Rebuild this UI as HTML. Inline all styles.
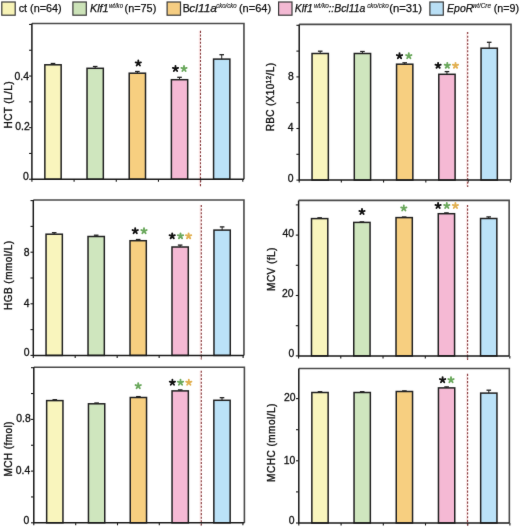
<!DOCTYPE html>
<html><head><meta charset="utf-8"><style>
html,body{margin:0;padding:0;background:#fff;width:520px;height:529px;overflow:hidden}
svg{display:block}
text{stroke:#111;stroke-width:0.35px}
.lb{stroke-width:0.3px}
.lg{stroke-width:0.25px}
.sp{stroke-width:0.12px}
</style></head><body>
<svg width="520" height="529" viewBox="0 0 520 529" font-family='"Liberation Sans", sans-serif' fill="#111" stroke="none"><defs><filter id="bl" filterUnits="userSpaceOnUse" x="0" y="0" width="520" height="529" color-interpolation-filters="sRGB"><feConvolveMatrix order="3" kernelMatrix="0.01 0.05 0.01 0.05 0.76 0.05 0.01 0.05 0.01" divisor="1" edgeMode="duplicate"/></filter></defs>
<rect width="520" height="529" fill="#fff"/>
<g filter="url(#bl)">
<rect width="520" height="529" fill="#fff"/>
<line x1="29.10" y1="179.25" x2="31.90" y2="179.25" stroke="#1a1a1a" stroke-width="1.1"/>
<line x1="29.10" y1="153.45" x2="31.90" y2="153.45" stroke="#1a1a1a" stroke-width="1.1"/>
<line x1="29.10" y1="127.65" x2="31.90" y2="127.65" stroke="#1a1a1a" stroke-width="1.1"/>
<line x1="29.10" y1="101.85" x2="31.90" y2="101.85" stroke="#1a1a1a" stroke-width="1.1"/>
<line x1="29.10" y1="76.05" x2="31.90" y2="76.05" stroke="#1a1a1a" stroke-width="1.1"/>
<line x1="29.10" y1="50.25" x2="31.90" y2="50.25" stroke="#1a1a1a" stroke-width="1.1"/>
<line x1="29.10" y1="24.45" x2="31.90" y2="24.45" stroke="#1a1a1a" stroke-width="1.1"/>
<line x1="31.90" y1="179.25" x2="31.90" y2="181.75" stroke="#1a1a1a" stroke-width="1.1"/>
<line x1="74.09" y1="179.25" x2="74.09" y2="181.75" stroke="#1a1a1a" stroke-width="1.1"/>
<line x1="116.27" y1="179.25" x2="116.27" y2="181.75" stroke="#1a1a1a" stroke-width="1.1"/>
<line x1="158.45" y1="179.25" x2="158.45" y2="181.75" stroke="#1a1a1a" stroke-width="1.1"/>
<line x1="200.63" y1="179.25" x2="200.63" y2="181.75" stroke="#1a1a1a" stroke-width="1.1"/>
<line x1="242.81" y1="179.25" x2="242.81" y2="181.75" stroke="#1a1a1a" stroke-width="1.1"/>
<line x1="199.60" y1="30.80" x2="199.60" y2="185.75" stroke="#fbe6e6" stroke-width="1.6"/>
<line x1="200.50" y1="30.80" x2="200.50" y2="186.25" stroke="#86393b" stroke-width="1.1" stroke-dasharray="2.1 1.55"/>
<rect x="44.85" y="64.80" width="16.30" height="114.45" fill="#f9f5bd" stroke="#222" stroke-width="1.5"/>
<line x1="53.00" y1="63.50" x2="53.00" y2="64.80" stroke="#222" stroke-width="1"/>
<line x1="50.70" y1="63.50" x2="55.30" y2="63.50" stroke="#222" stroke-width="1.3"/>
<rect x="87.03" y="68.30" width="16.30" height="110.95" fill="#cfe6be" stroke="#222" stroke-width="1.5"/>
<line x1="95.18" y1="66.50" x2="95.18" y2="68.30" stroke="#222" stroke-width="1"/>
<line x1="92.88" y1="66.50" x2="97.48" y2="66.50" stroke="#222" stroke-width="1.3"/>
<rect x="129.21" y="73.20" width="16.30" height="106.05" fill="#f7cf80" stroke="#222" stroke-width="1.5"/>
<line x1="137.36" y1="71.50" x2="137.36" y2="73.20" stroke="#222" stroke-width="1"/>
<line x1="135.06" y1="71.50" x2="139.66" y2="71.50" stroke="#222" stroke-width="1.3"/>
<rect x="171.39" y="79.70" width="16.30" height="99.55" fill="#f5b9d4" stroke="#222" stroke-width="1.5"/>
<line x1="179.54" y1="77.30" x2="179.54" y2="79.70" stroke="#222" stroke-width="1"/>
<line x1="177.24" y1="77.30" x2="181.84" y2="77.30" stroke="#222" stroke-width="1.3"/>
<rect x="213.57" y="59.10" width="16.30" height="120.15" fill="#bbe2f8" stroke="#222" stroke-width="1.5"/>
<line x1="221.72" y1="54.70" x2="221.72" y2="59.10" stroke="#222" stroke-width="1"/>
<line x1="219.42" y1="54.70" x2="224.02" y2="54.70" stroke="#222" stroke-width="1.3"/>
<path d="M31.90 23.50H243.95V179.25" fill="none" stroke="#4a4a4a" stroke-width="1.6"/>
<path d="M31.90 23.50V179.25H243.95" fill="none" stroke="#1a1a1a" stroke-width="1.5"/>
<text x="28.85" y="179.50" text-anchor="end" font-size="10.4" class="lb">0</text>
<text x="29.75" y="129.80" text-anchor="end" font-size="10.4" class="lb">0.2</text>
<text x="29.05" y="79.80" text-anchor="end" font-size="10.4" class="lb">0.4</text>
<text transform="translate(11.60 105.00) rotate(-90)" text-anchor="middle" font-size="10" textLength="47.0" lengthAdjust="spacing">HCT (L/L)</text>
<path d="M138.30 63.20L138.30 60.40M138.30 63.20L140.96 62.33M138.30 63.20L139.95 65.47M138.30 63.20L136.65 65.47M138.30 63.20L135.64 62.33" stroke="#111111" stroke-width="1.85" stroke-linecap="round" fill="none"/>
<path d="M175.50 68.70L175.50 65.90M175.50 68.70L178.16 67.83M175.50 68.70L177.15 70.97M175.50 68.70L173.85 70.97M175.50 68.70L172.84 67.83" stroke="#111111" stroke-width="1.85" stroke-linecap="round" fill="none"/>
<path d="M184.00 68.70L184.00 65.90M184.00 68.70L186.66 67.83M184.00 68.70L185.65 70.97M184.00 68.70L182.35 70.97M184.00 68.70L181.34 67.83" stroke="#6aa85c" stroke-width="1.85" stroke-linecap="round" fill="none"/><line x1="296.40" y1="180.10" x2="299.20" y2="180.10" stroke="#1a1a1a" stroke-width="1.1"/>
<line x1="296.40" y1="154.30" x2="299.20" y2="154.30" stroke="#1a1a1a" stroke-width="1.1"/>
<line x1="296.40" y1="128.50" x2="299.20" y2="128.50" stroke="#1a1a1a" stroke-width="1.1"/>
<line x1="296.40" y1="102.70" x2="299.20" y2="102.70" stroke="#1a1a1a" stroke-width="1.1"/>
<line x1="296.40" y1="76.90" x2="299.20" y2="76.90" stroke="#1a1a1a" stroke-width="1.1"/>
<line x1="296.40" y1="51.10" x2="299.20" y2="51.10" stroke="#1a1a1a" stroke-width="1.1"/>
<line x1="296.40" y1="25.30" x2="299.20" y2="25.30" stroke="#1a1a1a" stroke-width="1.1"/>
<line x1="299.20" y1="180.10" x2="299.20" y2="182.60" stroke="#1a1a1a" stroke-width="1.1"/>
<line x1="341.32" y1="180.10" x2="341.32" y2="182.60" stroke="#1a1a1a" stroke-width="1.1"/>
<line x1="383.57" y1="180.10" x2="383.57" y2="182.60" stroke="#1a1a1a" stroke-width="1.1"/>
<line x1="425.82" y1="180.10" x2="425.82" y2="182.60" stroke="#1a1a1a" stroke-width="1.1"/>
<line x1="468.07" y1="180.10" x2="468.07" y2="182.60" stroke="#1a1a1a" stroke-width="1.1"/>
<line x1="510.32" y1="180.10" x2="510.32" y2="182.60" stroke="#1a1a1a" stroke-width="1.1"/>
<line x1="466.80" y1="32.00" x2="466.80" y2="186.40" stroke="#fbe6e6" stroke-width="1.6"/>
<line x1="467.70" y1="32.00" x2="467.70" y2="186.90" stroke="#86393b" stroke-width="1.1" stroke-dasharray="2.1 1.55"/>
<rect x="312.05" y="53.50" width="16.30" height="126.60" fill="#f9f5bd" stroke="#222" stroke-width="1.5"/>
<line x1="320.20" y1="51.20" x2="320.20" y2="53.50" stroke="#222" stroke-width="1"/>
<line x1="317.90" y1="51.20" x2="322.50" y2="51.20" stroke="#222" stroke-width="1.3"/>
<rect x="354.30" y="53.50" width="16.30" height="126.60" fill="#cfe6be" stroke="#222" stroke-width="1.5"/>
<line x1="362.45" y1="51.50" x2="362.45" y2="53.50" stroke="#222" stroke-width="1"/>
<line x1="360.15" y1="51.50" x2="364.75" y2="51.50" stroke="#222" stroke-width="1.3"/>
<rect x="396.55" y="64.20" width="16.30" height="115.90" fill="#f7cf80" stroke="#222" stroke-width="1.5"/>
<line x1="404.70" y1="62.80" x2="404.70" y2="64.20" stroke="#222" stroke-width="1"/>
<line x1="402.40" y1="62.80" x2="407.00" y2="62.80" stroke="#222" stroke-width="1.3"/>
<rect x="438.80" y="74.30" width="16.30" height="105.80" fill="#f5b9d4" stroke="#222" stroke-width="1.5"/>
<line x1="446.95" y1="71.60" x2="446.95" y2="74.30" stroke="#222" stroke-width="1"/>
<line x1="444.65" y1="71.60" x2="449.25" y2="71.60" stroke="#222" stroke-width="1.3"/>
<rect x="481.05" y="48.20" width="16.30" height="131.90" fill="#bbe2f8" stroke="#222" stroke-width="1.5"/>
<line x1="489.20" y1="42.30" x2="489.20" y2="48.20" stroke="#222" stroke-width="1"/>
<line x1="486.90" y1="42.30" x2="491.50" y2="42.30" stroke="#222" stroke-width="1.3"/>
<path d="M299.20 24.40H511.00V180.10" fill="none" stroke="#4a4a4a" stroke-width="1.6"/>
<path d="M299.20 24.40V180.10H511.00" fill="none" stroke="#1a1a1a" stroke-width="1.5"/>
<text x="293.65" y="181.50" text-anchor="end" font-size="10.4" class="lb">0</text>
<text x="293.65" y="130.80" text-anchor="end" font-size="10.4" class="lb">4</text>
<text x="293.85" y="80.10" text-anchor="end" font-size="10.4" class="lb">8</text>
<text transform="translate(274.30 97.15) rotate(-90)" text-anchor="middle" font-size="10" textLength="68.3" lengthAdjust="spacing">RBC (X10<tspan dy="-3.5" font-size="6.5">12</tspan><tspan dy="3.5">/L)</tspan></text>
<path d="M399.50 55.90L399.50 53.10M399.50 55.90L402.16 55.03M399.50 55.90L401.15 58.17M399.50 55.90L397.85 58.17M399.50 55.90L396.84 55.03" stroke="#111111" stroke-width="1.85" stroke-linecap="round" fill="none"/>
<path d="M408.80 55.90L408.80 53.10M408.80 55.90L411.46 55.03M408.80 55.90L410.45 58.17M408.80 55.90L407.15 58.17M408.80 55.90L406.14 55.03" stroke="#6aa85c" stroke-width="1.85" stroke-linecap="round" fill="none"/>
<path d="M438.10 65.60L438.10 62.80M438.10 65.60L440.76 64.73M438.10 65.60L439.75 67.87M438.10 65.60L436.45 67.87M438.10 65.60L435.44 64.73" stroke="#111111" stroke-width="1.85" stroke-linecap="round" fill="none"/>
<path d="M447.30 65.60L447.30 62.80M447.30 65.60L449.96 64.73M447.30 65.60L448.95 67.87M447.30 65.60L445.65 67.87M447.30 65.60L444.64 64.73" stroke="#6aa85c" stroke-width="1.85" stroke-linecap="round" fill="none"/>
<path d="M455.50 65.60L455.50 62.80M455.50 65.60L458.16 64.73M455.50 65.60L457.15 67.87M455.50 65.60L453.85 67.87M455.50 65.60L452.84 64.73" stroke="#e2b050" stroke-width="1.85" stroke-linecap="round" fill="none"/><line x1="30.50" y1="355.40" x2="33.30" y2="355.40" stroke="#1a1a1a" stroke-width="1.1"/>
<line x1="30.50" y1="329.60" x2="33.30" y2="329.60" stroke="#1a1a1a" stroke-width="1.1"/>
<line x1="30.50" y1="303.80" x2="33.30" y2="303.80" stroke="#1a1a1a" stroke-width="1.1"/>
<line x1="30.50" y1="278.00" x2="33.30" y2="278.00" stroke="#1a1a1a" stroke-width="1.1"/>
<line x1="30.50" y1="252.20" x2="33.30" y2="252.20" stroke="#1a1a1a" stroke-width="1.1"/>
<line x1="30.50" y1="226.40" x2="33.30" y2="226.40" stroke="#1a1a1a" stroke-width="1.1"/>
<line x1="30.50" y1="200.60" x2="33.30" y2="200.60" stroke="#1a1a1a" stroke-width="1.1"/>
<line x1="33.30" y1="355.40" x2="33.30" y2="357.90" stroke="#1a1a1a" stroke-width="1.1"/>
<line x1="75.19" y1="355.40" x2="75.19" y2="357.90" stroke="#1a1a1a" stroke-width="1.1"/>
<line x1="117.17" y1="355.40" x2="117.17" y2="357.90" stroke="#1a1a1a" stroke-width="1.1"/>
<line x1="159.15" y1="355.40" x2="159.15" y2="357.90" stroke="#1a1a1a" stroke-width="1.1"/>
<line x1="201.13" y1="355.40" x2="201.13" y2="357.90" stroke="#1a1a1a" stroke-width="1.1"/>
<line x1="243.11" y1="355.40" x2="243.11" y2="357.90" stroke="#1a1a1a" stroke-width="1.1"/>
<line x1="200.40" y1="204.90" x2="200.40" y2="358.90" stroke="#fbe6e6" stroke-width="1.6"/>
<line x1="201.30" y1="204.90" x2="201.30" y2="359.40" stroke="#86393b" stroke-width="1.1" stroke-dasharray="2.1 1.55"/>
<rect x="46.05" y="234.20" width="16.30" height="121.20" fill="#f9f5bd" stroke="#222" stroke-width="1.5"/>
<line x1="54.20" y1="232.70" x2="54.20" y2="234.20" stroke="#222" stroke-width="1"/>
<line x1="51.90" y1="232.70" x2="56.50" y2="232.70" stroke="#222" stroke-width="1.3"/>
<rect x="88.03" y="236.50" width="16.30" height="118.90" fill="#cfe6be" stroke="#222" stroke-width="1.5"/>
<line x1="96.18" y1="235.20" x2="96.18" y2="236.50" stroke="#222" stroke-width="1"/>
<line x1="93.88" y1="235.20" x2="98.48" y2="235.20" stroke="#222" stroke-width="1.3"/>
<rect x="130.01" y="240.70" width="16.30" height="114.70" fill="#f7cf80" stroke="#222" stroke-width="1.5"/>
<line x1="138.16" y1="239.50" x2="138.16" y2="240.70" stroke="#222" stroke-width="1"/>
<line x1="135.86" y1="239.50" x2="140.46" y2="239.50" stroke="#222" stroke-width="1.3"/>
<rect x="171.99" y="247.00" width="16.30" height="108.40" fill="#f5b9d4" stroke="#222" stroke-width="1.5"/>
<line x1="180.14" y1="245.10" x2="180.14" y2="247.00" stroke="#222" stroke-width="1"/>
<line x1="177.84" y1="245.10" x2="182.44" y2="245.10" stroke="#222" stroke-width="1.3"/>
<rect x="213.97" y="230.10" width="16.30" height="125.30" fill="#bbe2f8" stroke="#222" stroke-width="1.5"/>
<line x1="222.12" y1="226.90" x2="222.12" y2="230.10" stroke="#222" stroke-width="1"/>
<line x1="219.82" y1="226.90" x2="224.42" y2="226.90" stroke="#222" stroke-width="1.3"/>
<path d="M33.30 200.00H243.95V355.40" fill="none" stroke="#4a4a4a" stroke-width="1.6"/>
<path d="M33.30 200.00V355.40H243.95" fill="none" stroke="#1a1a1a" stroke-width="1.5"/>
<text x="29.45" y="356.40" text-anchor="end" font-size="10.4" class="lb">0</text>
<text x="29.45" y="307.40" text-anchor="end" font-size="10.4" class="lb">4</text>
<text x="29.65" y="255.70" text-anchor="end" font-size="10.4" class="lb">8</text>
<text transform="translate(11.70 275.45) rotate(-90)" text-anchor="middle" font-size="10" textLength="68.9" lengthAdjust="spacing">HGB (mmol/L)</text>
<path d="M135.20 230.90L135.20 228.10M135.20 230.90L137.86 230.03M135.20 230.90L136.85 233.17M135.20 230.90L133.55 233.17M135.20 230.90L132.54 230.03" stroke="#111111" stroke-width="1.85" stroke-linecap="round" fill="none"/>
<path d="M144.00 230.90L144.00 228.10M144.00 230.90L146.66 230.03M144.00 230.90L145.65 233.17M144.00 230.90L142.35 233.17M144.00 230.90L141.34 230.03" stroke="#6aa85c" stroke-width="1.85" stroke-linecap="round" fill="none"/>
<path d="M172.20 236.10L172.20 233.30M172.20 236.10L174.86 235.23M172.20 236.10L173.85 238.37M172.20 236.10L170.55 238.37M172.20 236.10L169.54 235.23" stroke="#111111" stroke-width="1.85" stroke-linecap="round" fill="none"/>
<path d="M180.50 236.10L180.50 233.30M180.50 236.10L183.16 235.23M180.50 236.10L182.15 238.37M180.50 236.10L178.85 238.37M180.50 236.10L177.84 235.23" stroke="#6aa85c" stroke-width="1.85" stroke-linecap="round" fill="none"/>
<path d="M188.60 236.10L188.60 233.30M188.60 236.10L191.26 235.23M188.60 236.10L190.25 238.37M188.60 236.10L186.95 238.37M188.60 236.10L185.94 235.23" stroke="#e2b050" stroke-width="1.85" stroke-linecap="round" fill="none"/><line x1="295.80" y1="355.90" x2="298.60" y2="355.90" stroke="#1a1a1a" stroke-width="1.1"/>
<line x1="295.80" y1="325.70" x2="298.60" y2="325.70" stroke="#1a1a1a" stroke-width="1.1"/>
<line x1="295.80" y1="295.50" x2="298.60" y2="295.50" stroke="#1a1a1a" stroke-width="1.1"/>
<line x1="295.80" y1="265.30" x2="298.60" y2="265.30" stroke="#1a1a1a" stroke-width="1.1"/>
<line x1="295.80" y1="235.10" x2="298.60" y2="235.10" stroke="#1a1a1a" stroke-width="1.1"/>
<line x1="295.80" y1="204.90" x2="298.60" y2="204.90" stroke="#1a1a1a" stroke-width="1.1"/>
<line x1="298.60" y1="355.90" x2="298.60" y2="358.40" stroke="#1a1a1a" stroke-width="1.1"/>
<line x1="340.78" y1="355.90" x2="340.78" y2="358.40" stroke="#1a1a1a" stroke-width="1.1"/>
<line x1="383.04" y1="355.90" x2="383.04" y2="358.40" stroke="#1a1a1a" stroke-width="1.1"/>
<line x1="425.30" y1="355.90" x2="425.30" y2="358.40" stroke="#1a1a1a" stroke-width="1.1"/>
<line x1="467.56" y1="355.90" x2="467.56" y2="358.40" stroke="#1a1a1a" stroke-width="1.1"/>
<line x1="509.82" y1="355.90" x2="509.82" y2="358.40" stroke="#1a1a1a" stroke-width="1.1"/>
<line x1="466.70" y1="204.90" x2="466.70" y2="359.40" stroke="#fbe6e6" stroke-width="1.6"/>
<line x1="467.60" y1="204.90" x2="467.60" y2="359.90" stroke="#86393b" stroke-width="1.1" stroke-dasharray="2.1 1.55"/>
<rect x="311.50" y="218.60" width="16.30" height="137.30" fill="#f9f5bd" stroke="#222" stroke-width="1.5"/>
<line x1="319.65" y1="217.80" x2="319.65" y2="218.60" stroke="#222" stroke-width="1"/>
<line x1="317.35" y1="217.80" x2="321.95" y2="217.80" stroke="#222" stroke-width="1.3"/>
<rect x="353.76" y="222.40" width="16.30" height="133.50" fill="#cfe6be" stroke="#222" stroke-width="1.5"/>
<line x1="361.91" y1="221.90" x2="361.91" y2="222.40" stroke="#222" stroke-width="1"/>
<line x1="359.61" y1="221.90" x2="364.21" y2="221.90" stroke="#222" stroke-width="1.3"/>
<rect x="396.02" y="217.60" width="16.30" height="138.30" fill="#f7cf80" stroke="#222" stroke-width="1.5"/>
<line x1="404.17" y1="217.00" x2="404.17" y2="217.60" stroke="#222" stroke-width="1"/>
<line x1="401.87" y1="217.00" x2="406.47" y2="217.00" stroke="#222" stroke-width="1.3"/>
<rect x="438.28" y="213.70" width="16.30" height="142.20" fill="#f5b9d4" stroke="#222" stroke-width="1.5"/>
<line x1="446.43" y1="212.90" x2="446.43" y2="213.70" stroke="#222" stroke-width="1"/>
<line x1="444.13" y1="212.90" x2="448.73" y2="212.90" stroke="#222" stroke-width="1.3"/>
<rect x="480.54" y="218.50" width="16.30" height="137.40" fill="#bbe2f8" stroke="#222" stroke-width="1.5"/>
<line x1="488.69" y1="216.90" x2="488.69" y2="218.50" stroke="#222" stroke-width="1"/>
<line x1="486.39" y1="216.90" x2="490.99" y2="216.90" stroke="#222" stroke-width="1.3"/>
<path d="M298.60 200.40H509.15V355.90" fill="none" stroke="#4a4a4a" stroke-width="1.6"/>
<path d="M298.60 200.40V355.90H509.15" fill="none" stroke="#1a1a1a" stroke-width="1.5"/>
<text x="294.25" y="356.90" text-anchor="end" font-size="10.4" class="lb">0</text>
<text x="293.65" y="297.40" text-anchor="end" font-size="10.4" class="lb">20</text>
<text x="293.95" y="236.50" text-anchor="end" font-size="10.4" class="lb">40</text>
<text transform="translate(275.20 269.25) rotate(-90)" text-anchor="middle" font-size="10" textLength="43.3" lengthAdjust="spacing">MCV (fL)</text>
<path d="M362.00 211.80L362.00 209.00M362.00 211.80L364.66 210.93M362.00 211.80L363.65 214.07M362.00 211.80L360.35 214.07M362.00 211.80L359.34 210.93" stroke="#111111" stroke-width="1.85" stroke-linecap="round" fill="none"/>
<path d="M403.80 208.30L403.80 205.50M403.80 208.30L406.46 207.43M403.80 208.30L405.45 210.57M403.80 208.30L402.15 210.57M403.80 208.30L401.14 207.43" stroke="#6aa85c" stroke-width="1.85" stroke-linecap="round" fill="none"/>
<path d="M438.10 205.80L438.10 203.00M438.10 205.80L440.76 204.93M438.10 205.80L439.75 208.07M438.10 205.80L436.45 208.07M438.10 205.80L435.44 204.93" stroke="#111111" stroke-width="1.85" stroke-linecap="round" fill="none"/>
<path d="M446.80 205.80L446.80 203.00M446.80 205.80L449.46 204.93M446.80 205.80L448.45 208.07M446.80 205.80L445.15 208.07M446.80 205.80L444.14 204.93" stroke="#6aa85c" stroke-width="1.85" stroke-linecap="round" fill="none"/>
<path d="M455.40 205.80L455.40 203.00M455.40 205.80L458.06 204.93M455.40 205.80L457.05 208.07M455.40 205.80L453.75 208.07M455.40 205.80L452.74 204.93" stroke="#e2b050" stroke-width="1.85" stroke-linecap="round" fill="none"/><line x1="31.00" y1="522.80" x2="33.80" y2="522.80" stroke="#1a1a1a" stroke-width="1.1"/>
<line x1="31.00" y1="496.95" x2="33.80" y2="496.95" stroke="#1a1a1a" stroke-width="1.1"/>
<line x1="31.00" y1="471.10" x2="33.80" y2="471.10" stroke="#1a1a1a" stroke-width="1.1"/>
<line x1="31.00" y1="445.25" x2="33.80" y2="445.25" stroke="#1a1a1a" stroke-width="1.1"/>
<line x1="31.00" y1="419.40" x2="33.80" y2="419.40" stroke="#1a1a1a" stroke-width="1.1"/>
<line x1="31.00" y1="393.55" x2="33.80" y2="393.55" stroke="#1a1a1a" stroke-width="1.1"/>
<line x1="31.00" y1="367.70" x2="33.80" y2="367.70" stroke="#1a1a1a" stroke-width="1.1"/>
<line x1="33.80" y1="522.80" x2="33.80" y2="525.30" stroke="#1a1a1a" stroke-width="1.1"/>
<line x1="75.70" y1="522.80" x2="75.70" y2="525.30" stroke="#1a1a1a" stroke-width="1.1"/>
<line x1="117.50" y1="522.80" x2="117.50" y2="525.30" stroke="#1a1a1a" stroke-width="1.1"/>
<line x1="159.30" y1="522.80" x2="159.30" y2="525.30" stroke="#1a1a1a" stroke-width="1.1"/>
<line x1="201.10" y1="522.80" x2="201.10" y2="525.30" stroke="#1a1a1a" stroke-width="1.1"/>
<line x1="242.90" y1="522.80" x2="242.90" y2="525.30" stroke="#1a1a1a" stroke-width="1.1"/>
<line x1="200.40" y1="370.70" x2="200.40" y2="524.90" stroke="#fbe6e6" stroke-width="1.6"/>
<line x1="201.30" y1="370.70" x2="201.30" y2="525.40" stroke="#86393b" stroke-width="1.1" stroke-dasharray="2.1 1.55"/>
<rect x="46.65" y="400.60" width="16.30" height="122.20" fill="#f9f5bd" stroke="#222" stroke-width="1.5"/>
<line x1="54.80" y1="399.70" x2="54.80" y2="400.60" stroke="#222" stroke-width="1"/>
<line x1="52.50" y1="399.70" x2="57.10" y2="399.70" stroke="#222" stroke-width="1.3"/>
<rect x="88.45" y="403.80" width="16.30" height="119.00" fill="#cfe6be" stroke="#222" stroke-width="1.5"/>
<line x1="96.60" y1="403.00" x2="96.60" y2="403.80" stroke="#222" stroke-width="1"/>
<line x1="94.30" y1="403.00" x2="98.90" y2="403.00" stroke="#222" stroke-width="1.3"/>
<rect x="130.25" y="397.50" width="16.30" height="125.30" fill="#f7cf80" stroke="#222" stroke-width="1.5"/>
<line x1="138.40" y1="396.60" x2="138.40" y2="397.50" stroke="#222" stroke-width="1"/>
<line x1="136.10" y1="396.60" x2="140.70" y2="396.60" stroke="#222" stroke-width="1.3"/>
<rect x="172.05" y="390.90" width="16.30" height="131.90" fill="#f5b9d4" stroke="#222" stroke-width="1.5"/>
<line x1="180.20" y1="389.90" x2="180.20" y2="390.90" stroke="#222" stroke-width="1"/>
<line x1="177.90" y1="389.90" x2="182.50" y2="389.90" stroke="#222" stroke-width="1.3"/>
<rect x="213.85" y="400.30" width="16.30" height="122.50" fill="#bbe2f8" stroke="#222" stroke-width="1.5"/>
<line x1="222.00" y1="397.70" x2="222.00" y2="400.30" stroke="#222" stroke-width="1"/>
<line x1="219.70" y1="397.70" x2="224.30" y2="397.70" stroke="#222" stroke-width="1.3"/>
<path d="M33.80 367.30H244.40V522.80" fill="none" stroke="#4a4a4a" stroke-width="1.6"/>
<path d="M33.80 367.30V522.80H244.40" fill="none" stroke="#1a1a1a" stroke-width="1.5"/>
<text x="29.25" y="524.20" text-anchor="end" font-size="10.4" class="lb">0</text>
<text x="30.25" y="474.10" text-anchor="end" font-size="10.4" class="lb">0.4</text>
<text x="30.75" y="422.10" text-anchor="end" font-size="10.4" class="lb">0.8</text>
<text transform="translate(11.70 449.10) rotate(-90)" text-anchor="middle" font-size="10" textLength="55.0" lengthAdjust="spacing">MCH (fmol)</text>
<path d="M138.20 385.90L138.20 383.10M138.20 385.90L140.86 385.03M138.20 385.90L139.85 388.17M138.20 385.90L136.55 388.17M138.20 385.90L135.54 385.03" stroke="#6aa85c" stroke-width="1.85" stroke-linecap="round" fill="none"/>
<path d="M172.40 382.50L172.40 379.70M172.40 382.50L175.06 381.63M172.40 382.50L174.05 384.77M172.40 382.50L170.75 384.77M172.40 382.50L169.74 381.63" stroke="#111111" stroke-width="1.85" stroke-linecap="round" fill="none"/>
<path d="M180.50 382.50L180.50 379.70M180.50 382.50L183.16 381.63M180.50 382.50L182.15 384.77M180.50 382.50L178.85 384.77M180.50 382.50L177.84 381.63" stroke="#6aa85c" stroke-width="1.85" stroke-linecap="round" fill="none"/>
<path d="M188.80 382.50L188.80 379.70M188.80 382.50L191.46 381.63M188.80 382.50L190.45 384.77M188.80 382.50L187.15 384.77M188.80 382.50L186.14 381.63" stroke="#e2b050" stroke-width="1.85" stroke-linecap="round" fill="none"/><line x1="296.00" y1="523.00" x2="298.80" y2="523.00" stroke="#1a1a1a" stroke-width="1.1"/>
<line x1="296.00" y1="491.90" x2="298.80" y2="491.90" stroke="#1a1a1a" stroke-width="1.1"/>
<line x1="296.00" y1="460.80" x2="298.80" y2="460.80" stroke="#1a1a1a" stroke-width="1.1"/>
<line x1="296.00" y1="429.70" x2="298.80" y2="429.70" stroke="#1a1a1a" stroke-width="1.1"/>
<line x1="296.00" y1="398.60" x2="298.80" y2="398.60" stroke="#1a1a1a" stroke-width="1.1"/>
<line x1="298.80" y1="523.00" x2="298.80" y2="525.50" stroke="#1a1a1a" stroke-width="1.1"/>
<line x1="341.10" y1="523.00" x2="341.10" y2="525.50" stroke="#1a1a1a" stroke-width="1.1"/>
<line x1="383.30" y1="523.00" x2="383.30" y2="525.50" stroke="#1a1a1a" stroke-width="1.1"/>
<line x1="425.50" y1="523.00" x2="425.50" y2="525.50" stroke="#1a1a1a" stroke-width="1.1"/>
<line x1="467.70" y1="523.00" x2="467.70" y2="525.50" stroke="#1a1a1a" stroke-width="1.1"/>
<line x1="509.90" y1="523.00" x2="509.90" y2="525.50" stroke="#1a1a1a" stroke-width="1.1"/>
<line x1="466.70" y1="373.80" x2="466.70" y2="525.10" stroke="#fbe6e6" stroke-width="1.6"/>
<line x1="467.60" y1="373.80" x2="467.60" y2="525.60" stroke="#86393b" stroke-width="1.1" stroke-dasharray="2.1 1.55"/>
<rect x="311.85" y="392.50" width="16.30" height="130.50" fill="#f9f5bd" stroke="#222" stroke-width="1.5"/>
<line x1="320.00" y1="391.70" x2="320.00" y2="392.50" stroke="#222" stroke-width="1"/>
<line x1="317.70" y1="391.70" x2="322.30" y2="391.70" stroke="#222" stroke-width="1.3"/>
<rect x="354.05" y="392.50" width="16.30" height="130.50" fill="#cfe6be" stroke="#222" stroke-width="1.5"/>
<line x1="362.20" y1="391.70" x2="362.20" y2="392.50" stroke="#222" stroke-width="1"/>
<line x1="359.90" y1="391.70" x2="364.50" y2="391.70" stroke="#222" stroke-width="1.3"/>
<rect x="396.25" y="391.50" width="16.30" height="131.50" fill="#f7cf80" stroke="#222" stroke-width="1.5"/>
<line x1="404.40" y1="390.90" x2="404.40" y2="391.50" stroke="#222" stroke-width="1"/>
<line x1="402.10" y1="390.90" x2="406.70" y2="390.90" stroke="#222" stroke-width="1.3"/>
<rect x="438.45" y="387.90" width="16.30" height="135.10" fill="#f5b9d4" stroke="#222" stroke-width="1.5"/>
<line x1="446.60" y1="386.90" x2="446.60" y2="387.90" stroke="#222" stroke-width="1"/>
<line x1="444.30" y1="386.90" x2="448.90" y2="386.90" stroke="#222" stroke-width="1.3"/>
<rect x="480.65" y="393.10" width="16.30" height="129.90" fill="#bbe2f8" stroke="#222" stroke-width="1.5"/>
<line x1="488.80" y1="390.20" x2="488.80" y2="393.10" stroke="#222" stroke-width="1"/>
<line x1="486.50" y1="390.20" x2="491.10" y2="390.20" stroke="#222" stroke-width="1.3"/>
<path d="M298.80 368.50H509.35V523.00" fill="none" stroke="#4a4a4a" stroke-width="1.6"/>
<path d="M298.80 368.50V523.00H509.35" fill="none" stroke="#1a1a1a" stroke-width="1.5"/>
<text x="294.65" y="524.20" text-anchor="end" font-size="10.4" class="lb">0</text>
<text x="295.25" y="464.20" text-anchor="end" font-size="10.4" class="lb">10</text>
<text x="295.55" y="401.30" text-anchor="end" font-size="10.4" class="lb">20</text>
<text transform="translate(274.80 442.75) rotate(-90)" text-anchor="middle" font-size="10" textLength="78.3" lengthAdjust="spacing">MCHC (mmol/L)</text>
<path d="M442.60 379.90L442.60 377.10M442.60 379.90L445.26 379.03M442.60 379.90L444.25 382.17M442.60 379.90L440.95 382.17M442.60 379.90L439.94 379.03" stroke="#111111" stroke-width="1.85" stroke-linecap="round" fill="none"/>
<path d="M451.00 379.90L451.00 377.10M451.00 379.90L453.66 379.03M451.00 379.90L452.65 382.17M451.00 379.90L449.35 382.17M451.00 379.90L448.34 379.03" stroke="#6aa85c" stroke-width="1.85" stroke-linecap="round" fill="none"/>
<rect x="1.80" y="2" width="13.4" height="13.2" fill="#f7f3b6" stroke="#3a3a3a" stroke-width="1.2"/><rect x="72.90" y="2" width="13.4" height="13.2" fill="#cce3b8" stroke="#3a3a3a" stroke-width="1.2"/><rect x="167.10" y="2" width="13.4" height="13.2" fill="#f5cd82" stroke="#3a3a3a" stroke-width="1.2"/><rect x="278.60" y="2" width="13.4" height="13.2" fill="#f3b9d3" stroke="#3a3a3a" stroke-width="1.2"/><rect x="429.90" y="2" width="13.4" height="13.2" fill="#b9dff5" stroke="#3a3a3a" stroke-width="1.2"/><text x="18.70" y="11.9" font-size="11" class="lg" textLength="43.0" lengthAdjust="spacingAndGlyphs">ct (n=64)</text><text x="89.90" y="11.9" font-size="11" font-style="italic" class="lg" textLength="18.8" lengthAdjust="spacingAndGlyphs">Klf1</text><text x="108.90" y="8.1" font-size="6.5" font-style="italic" class="sp" textLength="14.1" lengthAdjust="spacingAndGlyphs">wt/ko</text><text x="124.50" y="11.9" font-size="11" class="lg" textLength="31.8" lengthAdjust="spacingAndGlyphs">(n=75)</text><text x="182.80" y="11.9" font-size="11" class="lg" textLength="7.0" lengthAdjust="spacingAndGlyphs">B</text><text x="189.30" y="11.9" font-size="11" font-style="italic" class="lg" textLength="27.6" lengthAdjust="spacingAndGlyphs">cl11a</text><text x="216.20" y="8.1" font-size="6.5" font-style="italic" class="sp" textLength="20.5" lengthAdjust="spacingAndGlyphs">cko/cko</text><text x="238.90" y="11.9" font-size="11" class="lg" textLength="32.2" lengthAdjust="spacingAndGlyphs">(n=64)</text><text x="294.70" y="11.9" font-size="11" font-style="italic" class="lg" textLength="18.1" lengthAdjust="spacingAndGlyphs">Klf1</text><text x="314.00" y="8.1" font-size="6.5" font-style="italic" class="sp" textLength="14.9" lengthAdjust="spacingAndGlyphs">wt/ko</text><text x="328.40" y="11.9" font-size="11" font-style="italic" class="lg" textLength="36.9" lengthAdjust="spacingAndGlyphs">::Bcl11a</text><text x="367.20" y="8.1" font-size="6.5" font-style="italic" class="sp" textLength="21.6" lengthAdjust="spacingAndGlyphs">cko/cko</text><text x="389.20" y="11.9" font-size="11" class="lg" textLength="32.9" lengthAdjust="spacingAndGlyphs">(n=31)</text><text x="447.10" y="11.9" font-size="11" font-style="italic" class="lg" textLength="26.2" lengthAdjust="spacingAndGlyphs">EpoR</text><text x="472.60" y="8.1" font-size="6.5" font-style="italic" class="sp" textLength="18.4" lengthAdjust="spacingAndGlyphs">wt/Cre</text><text x="493.70" y="11.9" font-size="11" class="lg" textLength="25.4" lengthAdjust="spacingAndGlyphs">(n=9)</text>
</g>
</svg>
</body></html>
